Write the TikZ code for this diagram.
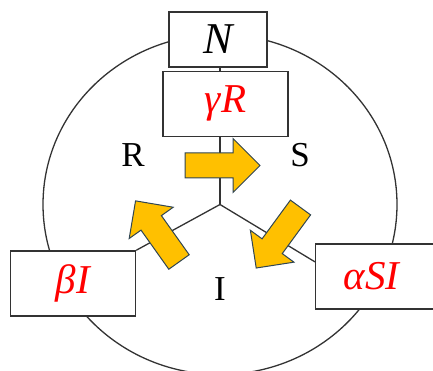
\documentclass[tikz,border=0pt]{standalone}
\usepackage{fontspec}
\setmainfont{Liberation Serif}
\usepackage{xcolor}
\usepackage{tikz}
\usetikzlibrary{positioning,calc}

\definecolor{flowfill}{HTML}{FFC000}
\definecolor{flowline}{HTML}{2F4553}
\definecolor{edgegray}{HTML}{333333}

\begin{document}
\begin{tikzpicture}[x=1pt,y=1pt,
  ratebox/.style={draw=edgegray,line width=1.4pt,fill=white,minimum width=125pt,minimum height=65pt,text=red,font=\fontsize{41}{46}\selectfont\itshape},
  statelabel/.style={font=\fontsize{35}{40}\selectfont},
  spoke/.style={draw=edgegray,line width=1.3pt},
  arrowbody/.style={fill=flowfill,draw=flowline,line width=1pt,line join=miter},
  flow/.pic={\draw[arrowbody] (0,12.5) -- (48,12.5) -- (48,27) -- (75,0) -- (48,-27) -- (48,-12.5) -- (0,-12.5) -- cycle;}]
  \useasboundingbox (0,0) rectangle (433,371);
  \coordinate (hub) at (220,166.5);
  \draw[spoke] (hub) ellipse [x radius=177,y radius=170];

  \node[ratebox,minimum width=98pt,minimum height=55pt,text=black,font=\fontsize{44}{50}\selectfont\itshape] (N) at (218,331.5) {N};
  \node[ratebox,below=3pt of N,xshift=7.5pt] (gR) {γR};
  \node[ratebox] (bI) at (73,87.5) {βI};
  % this box runs off the right edge
  \node[ratebox,anchor=west,minimum width=0pt,inner xsep=0pt] (aSI) at (315,94.5) {\makebox[112pt]{αSI}\hspace*{40pt}};
  \coordinate (sfoot) at ($(aSI.north west)!0.28!(aSI.south west)$);

  % spokes from the hub
  \draw[spoke] (hub) -- (hub |- gR.south);
  \draw[spoke] (hub |- gR.north) -- (hub |- N.south);
  \draw[spoke] (hub) -- (bI.north east);
  \draw[spoke] (hub) -- (sfoot);

  \node[statelabel] (R) at (133,215.5) {R};
  \node[statelabel] (S) at (300,215.5) {S};
  \node[statelabel] (I) at (220,82) {I};

  % flows between the states
  \pic[rotate=0] at (185,205.5) {flow};
  \pic[rotate=125.4] at (179,109) {flow};
  \pic[rotate=233.8] at (300.5,163.5) {flow};
\end{tikzpicture}
\end{document}
